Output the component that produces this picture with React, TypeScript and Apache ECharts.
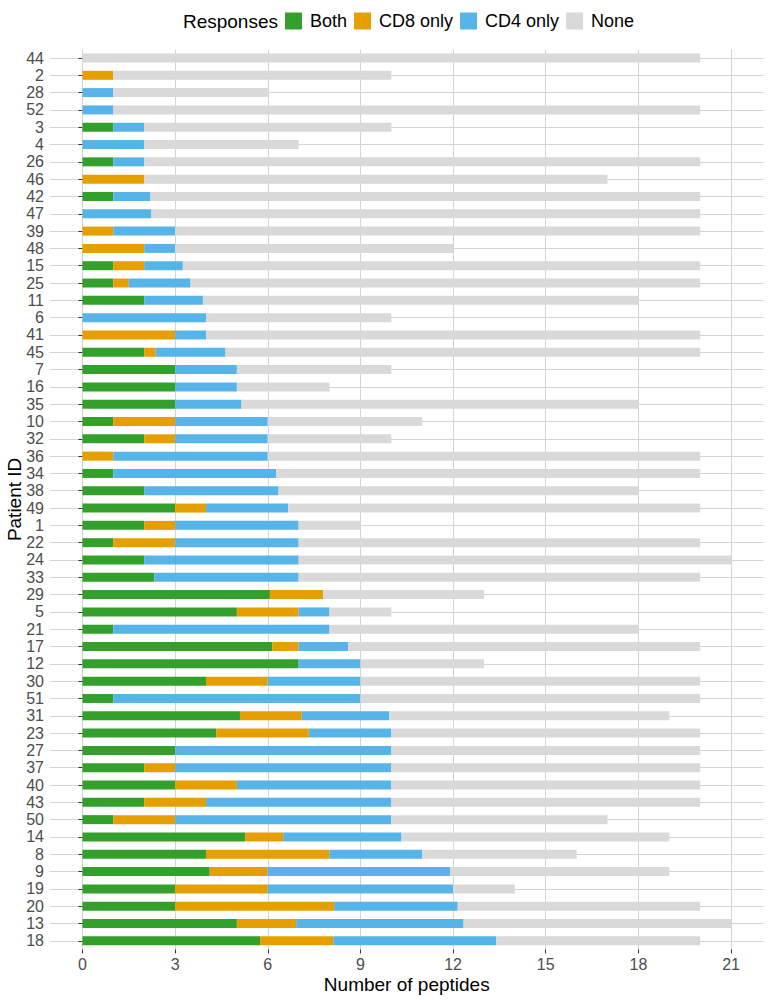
import React, { useEffect, useRef } from "react";
import * as echarts from "echarts";

const patients = ["44","2","28","52","3","4","26","46","42","47","39","48","15","25","11","6","41","45","7","16","35","10","32","36","34","38","49","1","22","24","33","29","5","21","17","12","30","51","31","23","27","37","40","43","50","14","8","9","19","20","13","18"];

const bothValues = [0,0,0,0,1,0,1,0,1,0,0,0,1,1,2,0,0,2,3,3,3,1,2,0,1,2,3,2,1,2,2.33,6.07,5,1,6.15,7,4,1,5.1,4.33,3,2,3,2,1,5.27,4,4.12,3,3,5,5.75];

const cd8Values = [0,1,0,0,0,0,0,2,0,0,1,2,1,0.5,0,0,3,0.37,0,0,0,2,1,1,0,0,1,1,2,0,0,1.73,2,0,0.85,0,2,0,2,3,0,1,2,2,2,1.23,4,1.88,3,5.15,1.92,2.37];

const cd4Values = [0,0,1,1,1,2,1,0,1.2,2.22,2,1,1.25,2,1.9,4,1,2.26,2,2,2.15,3,3,5,5.27,4.35,2.66,4,4,5,4.67,0,1,7,1.6,2,3,8,2.83,2.67,7,7,5,6,7,3.83,3,5.9,6,4,5.42,5.28];

const totalPeptides = [20,10,6,20,10,7,20,17,20,20,20,12,20,20,18,10,20,20,10,8,18,11,10,20,20,18,20,9,20,21,20,13,10,18,20,13,20,20,19,20,20,20,20,20,17,19,16,19,14,20,21,20];

const xTicks = [0, 3, 6, 9, 12, 15, 18, 21];

const seriesNames = ["Both", "CD8 only", "CD4 only", "None"];
const seriesColors = ["#33A02C", "#E69F00", "#56B4E9", "#D9D9D9"];

const FONT = "'Liberation Sans', Arial, Helvetica, sans-serif";

export default function App() {
  const ref = useRef<HTMLDivElement>(null);

  useEffect(() => {
    document.body.style.margin = "0";
    if (!ref.current) return;
    const chart = echarts.init(ref.current, null, { renderer: "svg" });

    const noneValues = totalPeptides.map((t, i) =>
      Math.max(0, +(t - bothValues[i] - cd8Values[i] - cd4Values[i]).toFixed(3))
    );
    const dataSets = [bothValues, cd8Values, cd4Values, noneValues];

    const rowH = 17.31;
    const gridTop = 58 - rowH / 2;
    const gridHeight = rowH * patients.length;

    chart.setOption({
      animation: false,
      textStyle: { fontFamily: FONT },
      legend: {
        data: seriesNames,
        left: 285,
        top: 12,
        padding: 0,
        itemWidth: 17,
        itemHeight: 17,
        itemGap: 7,
        icon: "rect",
        selectedMode: false,
        textStyle: {
          fontSize: 18,
          color: "#000",
          fontFamily: FONT,
          padding: [0, 0, 0, 3],
        },
      },
      graphic: [
        {
          type: "text",
          x: 278,
          y: 21,
          style: {
            text: "Responses",
            fontSize: 19,
            fontFamily: FONT,
            fill: "#000",
            textAlign: "right",
            textVerticalAlign: "middle",
          },
        },
      ],
      grid: {
        left: 50,
        right: 5.5,
        top: gridTop,
        height: gridHeight,
        containLabel: false,
        outerBoundsMode: "none",
      },
      xAxis: {
        type: "value",
        min: -1.05,
        max: 22.05,
        name: "Number of peptides",
        nameLocation: "middle",
        nameGap: 26,
        nameMoveOverlap: false,
        nameTextStyle: { fontSize: 19, color: "#000", fontFamily: FONT },
        axisLine: { show: false },
        axisTick: {
          show: true,
          length: 4,
          customValues: xTicks,
          lineStyle: { color: "#333333", width: 1 },
        },
        axisLabel: {
          customValues: xTicks,
          fontSize: 16,
          color: "#4D4D4D",
          margin: 7,
          fontFamily: FONT,
        },
        splitLine: {
          show: true,
          lineStyle: { color: "#D4D4D4", width: 1 },
        },
      },
      yAxis: {
        type: "category",
        data: patients,
        inverse: true,
        name: "Patient ID",
        nameLocation: "middle",
        nameGap: 26,
        nameMoveOverlap: false,
        nameTextStyle: { fontSize: 19, color: "#000", fontFamily: FONT },
        axisLine: { show: false },
        axisTick: {
          show: true,
          length: 4,
          alignWithLabel: true,
          interval: 0,
          lineStyle: { color: "#333333", width: 1 },
        },
        axisLabel: {
          interval: 0,
          fontSize: 16,
          color: "#4D4D4D",
          margin: 6,
          fontFamily: FONT,
        },
        splitLine: {
          show: true,
          alignWithLabel: true,
          interval: 0,
          lineStyle: { color: "#D4D4D4", width: 1 },
        },
      },
      series: seriesNames.map((name, k) => ({
        name,
        type: "bar",
        stack: "total",
        barWidth: 9,
        itemStyle: { color: seriesColors[k] },
        emphasis: { disabled: true },
        data: dataSets[k],
      })),
    });

    return () => {
      chart.dispose();
    };
  }, []);

  return <div ref={ref} style={{ width: 769, height: 1000 }} />;
}
